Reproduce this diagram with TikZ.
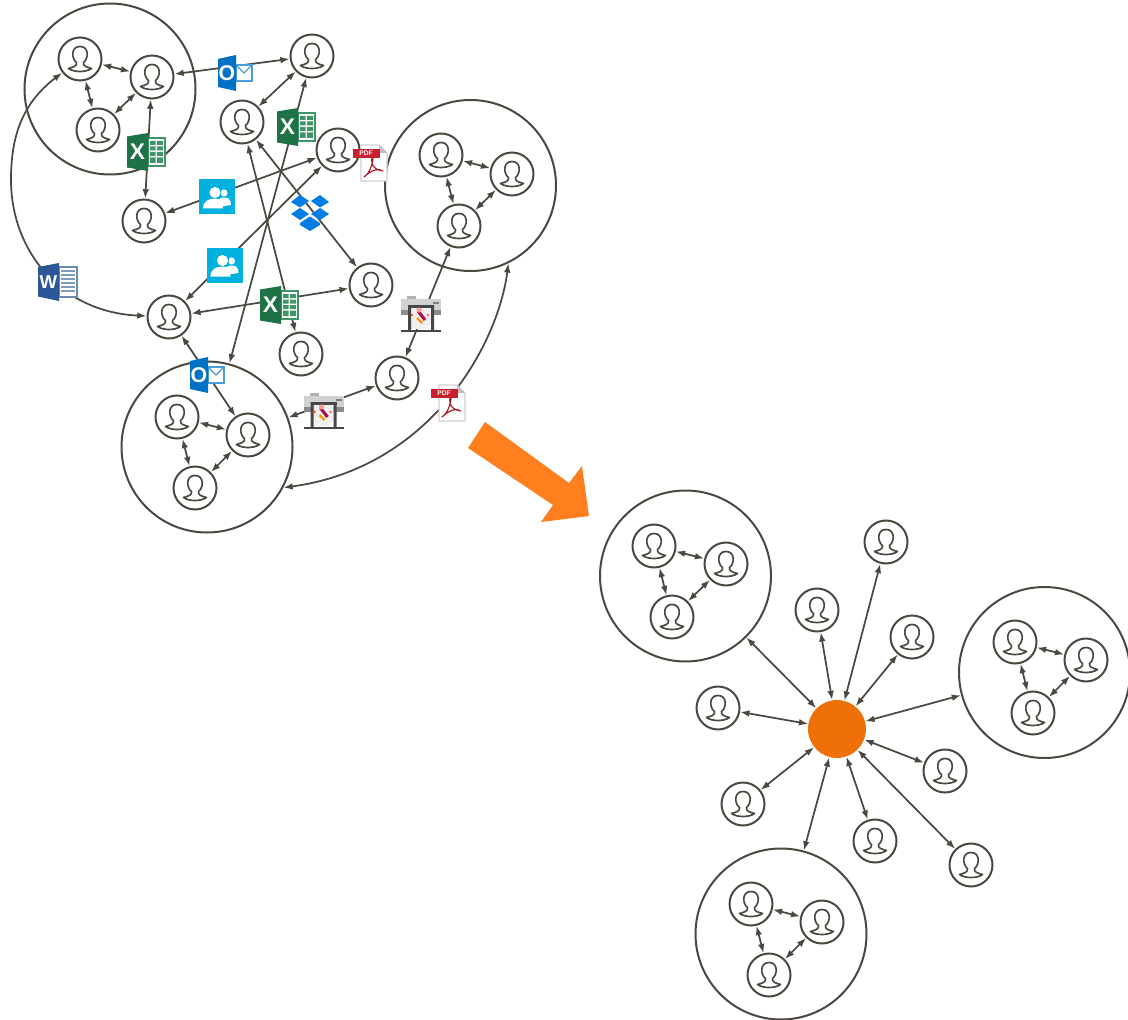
\documentclass[tikz,border=0pt]{standalone}
\usepackage{fontspec}
\setsansfont{Liberation Sans}
\usetikzlibrary{arrows.meta}
\definecolor{linegray}{HTML}{4B4840}
\definecolor{hubcol}{HTML}{EF7008}
\definecolor{bigarrow}{HTML}{FF7F1E}
\definecolor{xlgreen}{HTML}{1F7246}
\definecolor{xlcell}{HTML}{3F9468}
\definecolor{olblue}{HTML}{0072C6}
\definecolor{wdblue}{HTML}{2B5797}
\definecolor{tilecol}{HTML}{00B0DE}
\definecolor{dbblue}{HTML}{007EE5}
\definecolor{pdfred}{HTML}{C8202F}
\tikzset{
  person/.style={circle,draw=linegray,line width=1.5pt,fill=white,minimum size=32.25pt,inner sep=0pt,
    path picture={
      \draw[linegray,line width=1.25pt,shift={(path picture bounding box.center)},line join=round]
        (-11.5,9.5) .. controls (-6,8) and (-3,7) .. (-3.5,3.5)
        .. controls (-8.5,0) and (-9.5,-12.5) .. (0,-12.5)
        .. controls (9.5,-12.5) and (8.5,0) .. (3.5,3.5)
        .. controls (3,7) and (6,8) .. (11.5,9.5)
        .. controls (6,13.5) and (-6,13.5) .. cycle;
    }},
  cluster/.style={circle,draw=linegray,line width=1.5pt,minimum size=128.25pt,inner sep=0pt},
  hub/.style={circle,fill=hubcol,minimum size=43.5pt,inner sep=0pt},
  link/.style={linegray,line width=1.3pt,<->,>={Latex[length=7pt,width=5pt]}},
  xlicon/.pic={
    \fill[white] (2,-14) rectangle (19,14);
    \draw[xlcell,line width=.8pt] (2,-14) rectangle (19,14);
    \fill[xlcell] (4,-11) rectangle (9.5,-7) (11,-11) rectangle (17,-7)
      (4,-5.5) rectangle (9.5,-1.5) (11,-5.5) rectangle (17,-1.5)
      (4,0) rectangle (9.5,4) (11,0) rectangle (17,4)
      (4,5.5) rectangle (9.5,11) (11,5.5) rectangle (17,11);
    \fill[xlgreen] (-19,-15.5) -- (2,-19) -- (2,19) -- (-19,15.5) -- cycle;
    \node[white,font=\sffamily\bfseries\fontsize{17pt}{17pt}\selectfont,inner sep=0pt] (-letter) at (-8.5,0) {X};
  },
  olicon/.pic={
    \draw[olblue!70!white,line width=.9pt,fill=white] (1,-8) rectangle (17,8);
    \draw[olblue!70!white,line width=.9pt] (1,-8) -- (9,0) -- (17,-8);
    \fill[olblue] (-17,-14) -- (1,-18) -- (1,18) -- (-17,14) -- cycle;
    \node[white,font=\sffamily\bfseries\fontsize{16pt}{16pt}\selectfont,inner sep=0pt] (-letter) at (-8,0) {O};
  },
  wdicon/.pic={
    \fill[white] (1,-15) rectangle (19,15);
    \draw[wdblue!70!white,line width=.8pt] (1,-15) rectangle (19,15);
    \draw[wdblue!60!white,line width=.9pt]
      (3,-11) -- (17,-11) (3,-7) -- (17,-7) (3,-3) -- (17,-3) (3,1) -- (17,1) (3,5) -- (17,5) (3,9) -- (17,9);
    \fill[wdblue] (-20,-15) -- (1,-19) -- (1,19) -- (-20,14.5) -- cycle;
    \node[white,font=\sffamily\bfseries\fontsize{14pt}{14pt}\selectfont,inner sep=0pt] (-letter) at (-9.5,0) {W};
  },
  pdficon/.pic={
    \fill[white] (-12,-18) -- (6,-18) -- (14,-10) -- (14,18) -- (-12,18) -- cycle;
    \draw[black!18,line width=.8pt] (-12,-18) -- (6,-18) -- (14,-10) -- (14,18) -- (-12,18) -- cycle;
    \fill[black!25] (6,-18) -- (14,-10) -- (6,-10) -- cycle;
    \fill[pdfred] (-20,-14) rectangle (7,-5);
    \node[white,font=\sffamily\bfseries\fontsize{5pt}{5pt}\selectfont,inner sep=0pt] (-letter) at (-7,-9.5) {PDF};
    \draw[pdfred!85!black,line width=.9pt,line join=round]
      (-9,14) .. controls (-5,12) and (-1,4) .. (0,-4)
      .. controls (0,-6) and (-2,-6) .. (-1,0)
      .. controls (0,4) and (3,7) .. (10,8)
      .. controls (6,5) and (-2,7) .. (-9,14) -- cycle;
  },
  tileicon/.pic={
    \fill[tilecol] (-18,-17.5) rectangle (18,17.5);
    \fill[white] (7,-4) circle (3.6);
    \fill[white] (0,10) .. controls (0,2) and (3,0.5) .. (7,0.5) .. controls (11,0.5) and (14,2) .. (14,8) -- cycle;
    \fill[tilecol] (-2,-4.5) circle (6.4);
    \fill[white] (-2,-4.5) circle (5.5);
    \fill[white] (-14,11.5) .. controls (-14,4) and (-8,1.5) .. (-2,1.5) .. controls (3,1.5) and (6,4) .. (6,11.5) -- cycle;
  },
  dbicon/.pic={
    \fill[dbblue] (-19,-10) -- (-10,-17) -- (-1,-11) -- (-10,-4.5) -- cycle
      (1,-11) -- (10,-17) -- (19,-10) -- (10,-4.5) -- cycle
      (-19,2) -- (-10,-4) -- (-1,2) -- (-10,8) -- cycle
      (1,2) -- (10,-4) -- (19,2) -- (10,8) -- cycle
      (-10,11) -- (0,4.5) -- (10,11) -- (10,13) -- (0,19) -- (-10,13) -- cycle;
  },
  printicon/.pic={
    \fill[black!30] (-14,-19) rectangle (-5,-15);
    \fill[black!18] (-20,-16) rectangle (20,-5);
    \fill[black!45] (-20,-5) rectangle (20,0);
    \fill[black!72] (-13,-10) rectangle (13,-7);
    \fill[black!6] (-10,-7) -- (10,-7) -- (10,8) -- (5,14) -- (-10,14) -- cycle;
    \fill[black!72] (-13,-10) rectangle (-10,15) (10,-10) rectangle (13,15);
    \fill[black!72] (-20,14.5) rectangle (20,17);
    \fill[black!50] (12,-13) rectangle (18,-11.5);
    \draw[pdfred!60!violet,line width=2.4pt] (-3,-4) -- (4,5);
    \draw[orange!80!yellow,line width=1.8pt] (-4,3) -- (1,8);
    \fill[orange!60!red] (-9,0) circle (1.4);
    \fill[red!40!white] (-2,-5) circle (2.6);
    \fill[red!60!white] (7,0) circle (1.3);
  },
}
\begin{document}
\begin{tikzpicture}[x=0.75pt,y=-0.75pt]
  \useasboundingbox (0,0) rectangle (1128,1020);
  % first network
  \node[cluster] (cla) at (110,89) {};
  \node[cluster] (clb) at (470.5,185.5) {};
  \node[cluster] (clc) at (207,447) {};
  \node[person] (a1) at (80,59) {};
  \node[person] (a2) at (152,77) {};
  \node[person] (a3) at (98,130) {};
  \node[person] (b1) at (441,155) {};
  \node[person] (b2) at (512,174) {};
  \node[person] (b3) at (459,226) {};
  \node[person] (c1) at (177,417) {};
  \node[person] (c2) at (248,435) {};
  \node[person] (c3) at (195,488) {};
  \node[person] (topuser) at (312,56) {};
  \node[person] (upuser) at (242,122) {};
  \node[person] (pdfuser) at (338,150) {};
  \node[person] (leftuser) at (144,221) {};
  \node[person] (rightuser) at (371,285) {};
  \node[person] (miduser) at (169,317) {};
  \node[person] (lowuser) at (301,354) {};
  \node[person] (printuser) at (397,378) {};
  \draw[link] (a1)--(a2);
  \draw[link] (a1)--(a3);
  \draw[link] (a2)--(a3);
  \draw[link] (b1)--(b2);
  \draw[link] (b1)--(b3);
  \draw[link] (b2)--(b3);
  \draw[link] (c1)--(c2);
  \draw[link] (c1)--(c3);
  \draw[link] (c2)--(c3);
  \draw[link] (a2)--(leftuser);
  \draw[link] (a2)--(topuser);
  \draw[link] (topuser)--(upuser);
  \draw[link] (topuser)--(clc);
  \draw[link] (pdfuser)--(leftuser);
  \draw[link] (pdfuser)--(miduser);
  \draw[link] (upuser)--(rightuser);
  \draw[link] (upuser)--(lowuser);
  \draw[link] (miduser)--(rightuser);
  \draw[link] (miduser)--(c2);
  \draw[link] (printuser)--(b3);
  \draw[link] (printuser)--(clc);
  \draw[link] (a1) .. controls (20,105) and (11,140) .. (11,180)
    .. controls (11,250) and (60,312) .. (miduser);
  \draw[link] (clb.-64) .. controls (498,345) and (430,468) .. (clc.-28);
  % icons sit on top of the links
  \pic (xla) at (146,152) {xlicon};
  \pic (xlb) at (296,127) {xlicon};
  \pic (xlc) at (279,305) {xlicon};
  \pic (ola) at (235,73) {olicon};
  \pic (olb) at (207,375) {olicon};
  \pic (wda) at (58,282) {wdicon};
  \pic (pdfa) at (373,163) {pdficon};
  \pic (pdfb) at (451,403) {pdficon};
  \pic (tla) at (217,197) {tileicon};
  \pic (tlb) at (224.5,265) {tileicon};
  \pic (dba) at (310,212) {dbicon};
  \pic (pra) at (421,315) {printicon};
  \pic (prb) at (323.5,412) {printicon};
  % big arrow
  \fill[bigarrow] (485,422) -- (569,483) -- (582,466) -- (589,516) -- (541,522) -- (553,505) -- (468,448) -- cycle;
  % second network
  \node[hub] (hub) at (837,729) {};
  \node[cluster] (cld) at (685.5,576) {};
  \node[cluster] (cle) at (1044.5,672.5) {};
  \node[cluster] (clf) at (781,934) {};
  \node[person] (d1) at (654,546) {};
  \node[person] (d2) at (726,564) {};
  \node[person] (d3) at (672,617) {};
  \node[person] (e1) at (1015,642) {};
  \node[person] (e2) at (1086,660) {};
  \node[person] (e3) at (1033,713) {};
  \node[person] (f1) at (751,904) {};
  \node[person] (f2) at (822,922) {};
  \node[person] (f3) at (769,975) {};
  \node[person] (u1) at (886,542) {};
  \node[person] (u2) at (817,610) {};
  \node[person] (u3) at (912,637) {};
  \node[person] (u4) at (718,708) {};
  \node[person] (u5) at (945,771) {};
  \node[person] (u6) at (743,804) {};
  \node[person] (u7) at (875,841) {};
  \node[person] (u8) at (971,865) {};
  \draw[link] (d1)--(d2);
  \draw[link] (d1)--(d3);
  \draw[link] (d2)--(d3);
  \draw[link] (e1)--(e2);
  \draw[link] (e1)--(e3);
  \draw[link] (e2)--(e3);
  \draw[link] (f1)--(f2);
  \draw[link] (f1)--(f3);
  \draw[link] (f2)--(f3);
  \draw[link] (hub)--(cld);
  \draw[link] (hub)--(cle);
  \draw[link] (hub)--(clf);
  \draw[link] (hub)--(u1);
  \draw[link] (hub)--(u2);
  \draw[link] (hub)--(u3);
  \draw[link] (hub)--(u4);
  \draw[link] (hub)--(u5);
  \draw[link] (hub)--(u6);
  \draw[link] (hub)--(u7);
  \draw[link] (hub)--(u8);
\end{tikzpicture}
\end{document}
